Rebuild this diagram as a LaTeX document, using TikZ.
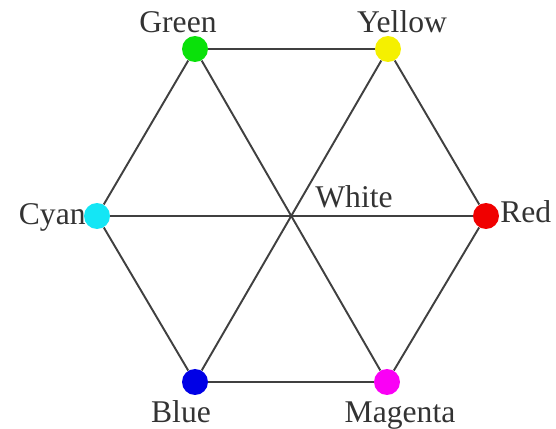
\documentclass[tikz,border=0pt]{standalone}
\usepackage{fontspec}
\setmainfont{Liberation Serif}
\usepackage{xcolor}
\usepackage{tikz}
\usetikzlibrary{positioning}

\definecolor{dotgreen}{RGB}{10,225,10}
\definecolor{dotyellow}{RGB}{245,240,0}
\definecolor{dotcyan}{RGB}{20,230,245}
\definecolor{dotred}{RGB}{240,0,0}
\definecolor{dotblue}{RGB}{0,0,230}
\definecolor{dotmagenta}{RGB}{250,0,245}

\begin{document}
\begin{tikzpicture}[
    x=0.02cm, y=-0.02cm,
    dot/.style={circle, inner sep=0pt, minimum size=0.52cm},
    tag/.style={inner sep=0pt, text=black!80, font=\fontsize{18}{21}\selectfont},
    wire/.style={draw=black!75, line width=1.1pt}
]
    \useasboundingbox (0,0) rectangle (556,429);

    \node[dot, fill=dotgreen]   (green)   at (195,49)  {};
    \node[dot, fill=dotyellow]  (yellow)  at (388,49)  {};
    \node[dot, fill=dotcyan]    (cyan)    at (97,216)  {};
    \node[dot, fill=dotred]     (red)     at (486,216) {};
    \node[dot, fill=dotblue]    (blue)    at (195,382) {};
    \node[dot, fill=dotmagenta] (magenta) at (387,382) {};

    \node[tag, anchor=base]      (greentag)   at (178,33)  {Green};
    \node[tag, anchor=base]      (yellowtag)  at (402,33)  {Yellow};
    \node[tag, anchor=base east] (cyantag)    at (86,225)  {Cyan};
    \node[tag, anchor=base west] (redtag)     at (500,223) {Red};
    \node[tag, anchor=base west] (whitetag)   at (315,208) {White};
    \node[tag, anchor=base]      (bluetag)    at (181,423) {Blue};
    \node[tag, anchor=base]      (magentatag) at (400,423) {Magenta};

    % hexagon
    \draw[wire] (green) -- (yellow);
    \draw[wire] (yellow) -- (red);
    \draw[wire] (red) -- (magenta);
    \draw[wire] (magenta) -- (blue);
    \draw[wire] (blue) -- (cyan);
    \draw[wire] (cyan) -- (green);
    % diagonals
    \draw[wire] (green) -- (magenta);
    \draw[wire] (yellow) -- (blue);
    \draw[wire] (cyan) -- (red);
\end{tikzpicture}
\end{document}
